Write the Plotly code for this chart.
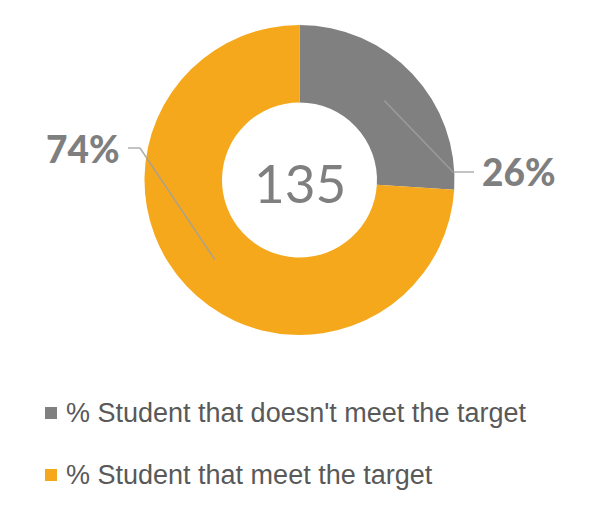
import math
import plotly.graph_objects as go

# ---- data ----
labels = ["% Student that doesn't meet the target", "% Student that meet the target"]
values = [26, 74]
center_value = "135"

# ---- style ----
colors = ["#808080", "#F5A81C"]
W, H = 614, 520
CX, CY, R_OUT, HOLE = 299.5, 180.0, 155.0, 0.5
LABEL_FONT = dict(family="Lato, Carlito, sans-serif", size=37, color="#7F7F7F", weight=900)
LEGEND_FONT = dict(family="Liberation Sans, Arial, sans-serif", size=27, color="#595959")
# elbow points and horizontal leader lengths for the outside labels (pixels)
label_style = [
    dict(elbow=(453, 172), end=(474, 172), side="left"),
    dict(elbow=(140, 148), end=(128, 148), side="right"),
]
legend_rows_y = [413, 475]
legend_marker_x = 45
legend_text_x = 64


def px(x):
    return x / W


def py(y):
    return 1 - y / H


fig = go.Figure()
fig.add_trace(go.Pie(
    labels=labels, values=values, hole=HOLE, sort=False,
    direction="clockwise", rotation=0,
    marker=dict(colors=colors, line=dict(width=0)),
    textinfo="none", hoverinfo="label+percent", showlegend=False,
    domain=dict(x=[px(CX - R_OUT), px(CX + R_OUT)],
                y=[py(CY + R_OUT), py(CY - R_OUT)]),
))

shapes = []
annotations = []
total = sum(values)
cum = 0
r_mid = (R_OUT + R_OUT * HOLE) / 2
for v, st in zip(values, label_style):
    mid = (cum + v / 2) / total * 2 * math.pi
    cum += v
    sx = CX + r_mid * math.sin(mid)
    sy = CY - r_mid * math.cos(mid)
    ex, ey = st["elbow"]
    tx, ty = st["end"]
    for (x0, y0, x1, y1) in [(sx, sy, ex, ey), (ex, ey, tx, ty)]:
        shapes.append(dict(type="line", xref="paper", yref="paper",
                           x0=px(x0), y0=py(y0), x1=px(x1), y1=py(y1),
                           line=dict(color="rgba(160,160,160,0.85)", width=1.5)))
    pct = f"{round(v / total * 100)}%"
    if st["side"] == "left":
        annotations.append(dict(x=px(tx + 6), y=py(ty), xref="paper", yref="paper",
                                text=pct, showarrow=False,
                                xanchor="left", yanchor="middle", font=LABEL_FONT))
    else:
        annotations.append(dict(x=px(tx - 6), y=py(ty), xref="paper", yref="paper",
                                text=pct, showarrow=False,
                                xanchor="right", yanchor="middle", font=LABEL_FONT))

annotations.append(dict(x=px(CX), y=py(CY + 2), xref="paper", yref="paper",
                        text=center_value, showarrow=False,
                        xanchor="center", yanchor="middle",
                        font=dict(family="Lato, Carlito, sans-serif", size=53, color="#7F7F7F")))

# manual legend
for lab, col, ry in zip(labels, colors, legend_rows_y):
    shapes.append(dict(type="rect", xref="paper", yref="paper",
                       x0=px(legend_marker_x), x1=px(legend_marker_x + 12),
                       y0=py(ry + 6), y1=py(ry - 6),
                       fillcolor=col, line=dict(width=0)))
    annotations.append(dict(x=px(legend_text_x), y=py(ry), xref="paper", yref="paper",
                            text=lab, showarrow=False, xanchor="left", yanchor="middle",
                            font=LEGEND_FONT))

fig.update_layout(width=W, height=H, margin=dict(l=0, r=0, t=0, b=0),
                  paper_bgcolor="white", plot_bgcolor="white",
                  shapes=shapes, annotations=annotations, showlegend=False)
fig.write_html("out.html", config={"displayModeBar": False})
